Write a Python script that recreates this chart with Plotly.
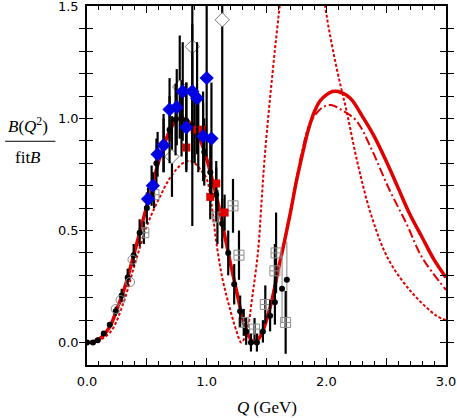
import plotly.graph_objects as go

# ---- fit curves ----
fit_q = [0, 0.05, 0.1, 0.15, 0.2, 0.25, 0.3, 0.35, 0.4, 0.45, 0.5, 0.55, 0.6, 0.65, 0.7, 0.75,
         0.8, 0.85, 0.9, 0.95, 1.0, 1.05, 1.1, 1.15, 1.2, 1.25, 1.3, 1.35, 1.4, 1.45, 1.5, 1.55,
         1.6, 1.65, 1.7, 1.75, 1.8, 1.85, 1.9, 1.95, 2.0, 2.05, 2.1, 2.2, 2.3, 2.4, 2.5, 2.6,
         2.7, 2.8, 2.9, 3.0]
fit_solid = [0, 0.003, 0.015, 0.04, 0.08, 0.15, 0.22, 0.31, 0.41, 0.51, 0.61, 0.71, 0.81, 0.89,
             0.955, 0.995, 1.0, 0.985, 0.955, 0.9, 0.82, 0.72, 0.61, 0.48, 0.35, 0.23, 0.11, 0.03,
             0.0, 0.03, 0.1, 0.2, 0.33, 0.45, 0.58, 0.72, 0.84, 0.95, 1.03, 1.08, 1.105, 1.12,
             1.12, 1.09, 1.01, 0.92, 0.81, 0.69, 0.57, 0.47, 0.37, 0.29]

dd_q = [0, 0.1, 0.2, 0.3, 0.4, 0.5, 0.6, 0.7, 0.8, 0.9, 1.0, 1.1, 1.2, 1.3, 1.35, 1.4, 1.45,
        1.5, 1.6, 1.7, 1.75, 1.8, 1.85, 1.9, 1.97, 2.04, 2.12, 2.25, 2.38, 2.52, 2.67, 2.8, 3.0]
dd_vals = [0, 0.015, 0.08, 0.22, 0.41, 0.61, 0.81, 0.955, 1.0, 0.955, 0.82, 0.61, 0.35, 0.11,
           0.03, 0.0, 0.03, 0.1, 0.33, 0.59, 0.73, 0.86, 0.96, 1.01, 1.05, 1.06, 1.04, 0.99,
           0.86, 0.69, 0.53, 0.38, 0.235]

dot_q = [0, 0.1, 0.2, 0.3, 0.4, 0.5, 0.6, 0.7, 0.8, 0.86, 0.9, 0.95, 1.0, 1.04, 1.08, 1.13,
         1.19, 1.25, 1.29, 1.34, 1.38, 1.43, 1.46, 1.49, 1.55, 1.61, 1.7, 1.8, 1.9, 1.99,
         2.08, 2.17, 2.27, 2.38, 2.52, 2.72, 2.92, 3.0]
dot_vals = [0, 0.01, 0.05, 0.17, 0.35, 0.52, 0.64, 0.74, 0.8, 0.81, 0.8, 0.77, 0.73, 0.62,
            0.45, 0.29, 0.16, 0.05, 0.0, 0.06, 0.2, 0.41, 0.64, 0.86, 1.2, 1.5, 1.9, 2.1,
            1.9, 1.5, 1.24, 1.03, 0.78, 0.56, 0.37, 0.22, 0.12, 0.1]

# ---- data points ----
blk_q = [0.0, 0.05, 0.09, 0.14, 0.19, 0.24, 0.29, 0.34, 0.39, 0.44, 0.5, 0.54, 0.58, 0.64, 0.69,
         0.74, 0.79, 0.83, 0.88, 0.93, 0.98, 1.03, 1.08, 1.13, 1.18, 1.23, 1.28, 1.33, 1.37,
         1.42, 1.47, 1.53, 1.57]
blk_y = [0, 0, 0.01, 0.04, 0.08, 0.14, 0.21, 0.29, 0.39, 0.49, 0.6, 0.7, 0.8, 0.89, 0.95,
         0.995, 1.0, 0.99, 0.97, 0.92, 0.85, 0.76, 0.66, 0.53, 0.4, 0.26, 0.14, 0.05, 0.0,
         0.0, 0.05, 0.12, 0.18]
blk_err = [0, 0, 0, 0.01, 0.01, 0.02, 0.03, 0.04, 0.05, 0.06, 0.07, 0.09, 0.11, 0.13, 0.15,
           0.16, 0.17, 0.17, 0.17, 0.16, 0.15, 0.13, 0.12, 0.11, 0.1, 0.09, 0.07, 0.06, 0.04,
           0.04, 0.05, 0.07, 0.1]

gry_q = [1.63, 1.67]
gry_y = [0.24, 0.28]
gry_err = [0.15, 0.17]

blue_q = [0.51, 0.55, 0.59, 0.64, 0.69, 0.75, 0.80, 0.83, 0.88, 0.92, 0.97, 1.0, 1.04]
blue_y = [0.64, 0.70, 0.84, 0.88, 1.04, 1.05, 1.12, 0.96, 1.12, 1.09, 0.92, 1.18, 0.91]
blue_err = [0.05, 0.06, 0.1, 0.12, 0.14, 0.17, 0.22, 0.2, 0.3, 0.25, 0.2, 0.35, 0.25]

red_q = [0.83, 0.90, 0.97, 1.03, 1.08, 1.15]
red_y = [0.87, 0.95, 0.95, 0.65, 0.71, 0.58]
red_err = [0.1, 0.15, 0.12, 0.1, 0.1, 0.08]

odia_q = [0.71, 0.775, 0.88, 1.13]
odia_y = [0.83, 1.14, 1.32, 1.44]
odia_err = [0.18, 0.23, 0.8, 0.9]

osq_q = [0.475, 0.56, 1.09, 1.22, 1.27, 1.31, 1.40, 1.49, 1.57, 1.58, 1.66]
osq_y = [0.49, 0.66, 0.56, 0.61, 0.39, 0.09, 0.06, 0.17, 0.32, 0.40, 0.09]
osq_err = [0.05, 0.06, 0.12, 0.12, 0.11, 0.06, 0.05, 0.085, 0.12, 0.18, 0.14]

ocir_q = [0.24, 0.28, 0.36, 0.38]
ocir_y = [0.15, 0.19, 0.27, 0.37]

RED = "#e00000"

fig = go.Figure()
fig.add_trace(go.Scatter(x=dot_q, y=dot_vals, mode="lines", line=dict(color=RED, width=2, dash="3px,2px", shape="spline")))
fig.add_trace(go.Scatter(x=dd_q, y=dd_vals, mode="lines", line=dict(color=RED, width=2, dash="9px,3px,2px,3px", shape="spline")))
fig.add_trace(go.Scatter(x=fit_q, y=fit_solid, mode="lines", line=dict(color=RED, width=3.5, shape="spline")))

def eb(arr, color="black", th=2.2):
    return dict(type="data", array=arr, visible=True, color=color, thickness=th, width=0)

fig.add_trace(go.Scatter(x=gry_q, y=gry_y, mode="markers", error_y=eb(gry_err, "#999999", 1.2),
                         marker=dict(color="black", size=6)))
fig.add_trace(go.Scatter(x=osq_q, y=osq_y, mode="markers", error_y=eb(osq_err),
                         marker=dict(symbol="square-cross-open", color="#8c8c8c", size=10,
                                     line=dict(width=1, color="#8c8c8c"))))
fig.add_trace(go.Scatter(x=odia_q, y=odia_y, mode="markers", error_y=eb(odia_err),
                         marker=dict(symbol="diamond", color="white", size=11,
                                     line=dict(width=1, color="#777777"))))
fig.add_trace(go.Scatter(x=blk_q, y=blk_y, mode="markers", error_y=eb(blk_err),
                         marker=dict(color="black", size=6)))
fig.add_trace(go.Scatter(x=ocir_q, y=ocir_y, mode="markers",
                         marker=dict(symbol="circle-open", color="#8c8c8c", size=9,
                                     line=dict(width=1))))
fig.add_trace(go.Scatter(x=red_q, y=red_y, mode="markers", error_y=eb(red_err),
                         marker=dict(symbol="square", color=RED, size=8)))
fig.add_trace(go.Scatter(x=blue_q, y=blue_y, mode="markers", error_y=eb(blue_err),
                         marker=dict(symbol="diamond", color="#0000e0", size=11)))
# invisible trace carrying the top axis
fig.add_trace(go.Scatter(x=[0, 3], y=[0, 0], mode="markers", xaxis="x2",
                         marker=dict(opacity=0), hoverinfo="skip"))

x_major = [0, 0.5, 1.0, 1.5, 2.0, 2.5, 3.0]
x_text = ["0.0", "", "1.0", "", "2.0", "", "3.0"]
y_ticks = [round(0.1 * i, 1) for i in range(0, 16)]
y_text = [("%.1f" % v) if abs(v * 2 - round(v * 2)) < 1e-9 else "" for v in y_ticks]

minor_x = dict(dtick=0.1, ticks="inside", ticklen=4, tickwidth=1.2, tickcolor="black", showgrid=False)

fig.update_layout(
    width=457, height=418,
    margin=dict(l=86.5, r=10.5, t=5.5, b=52.5),
    paper_bgcolor="white", plot_bgcolor="white",
    showlegend=False,
    font=dict(family="DejaVu Sans", size=13, color="black"),
    xaxis=dict(range=[0, 3], showgrid=False, zeroline=False, showline=True, linecolor="black",
               linewidth=1.5, mirror=True, ticks="inside", ticklen=7, tickwidth=1.2,
               tickcolor="black", tickvals=x_major, ticktext=x_text, ticklabelstandoff=4,
               minor=minor_x, automargin=False),
    xaxis2=dict(range=[0, 3], overlaying="x", side="top", showgrid=False, zeroline=False,
                showline=False, ticks="inside", ticklen=7, tickwidth=1.2, tickcolor="black",
                tickvals=x_major, showticklabels=False, minor=minor_x, automargin=False),
    yaxis=dict(range=[-0.1, 1.5015], showgrid=False, zeroline=False, showline=True, linecolor="black",
               linewidth=1.5, mirror="allticks", ticks="inside", ticklen=6, tickwidth=1.2,
               tickcolor="black", tickvals=y_ticks, ticktext=y_text, ticklabelstandoff=4,
               ticklabeloverflow="allow", automargin=False),
)

SERIF = "Liberation Serif"
fig.add_annotation(xref="paper", yref="y", x=-0.163, y=0.97, text="<i>B</i>(<i>Q</i><sup>2</sup>)",
                   showarrow=False, font=dict(family=SERIF, size=17), xanchor="center", yanchor="middle")
fig.add_annotation(xref="paper", yref="y", x=-0.163, y=0.825, text="fit<i>B</i>",
                   showarrow=False, font=dict(family=SERIF, size=17), xanchor="center", yanchor="middle")
fig.add_shape(type="line", xref="paper", yref="y", x0=-0.228, x1=-0.088, y0=0.898, y1=0.898,
              line=dict(color="black", width=1))
fig.add_annotation(xref="paper", yref="paper", x=0.5, y=-0.118, text="<i>Q</i> (GeV)",
                   showarrow=False, font=dict(family=SERIF, size=17), xanchor="center", yanchor="middle")

fig.write_html("out.html", config={"displayModeBar": False},
               post_script="document.body.style.margin='0';document.body.style.overflow='hidden';")
